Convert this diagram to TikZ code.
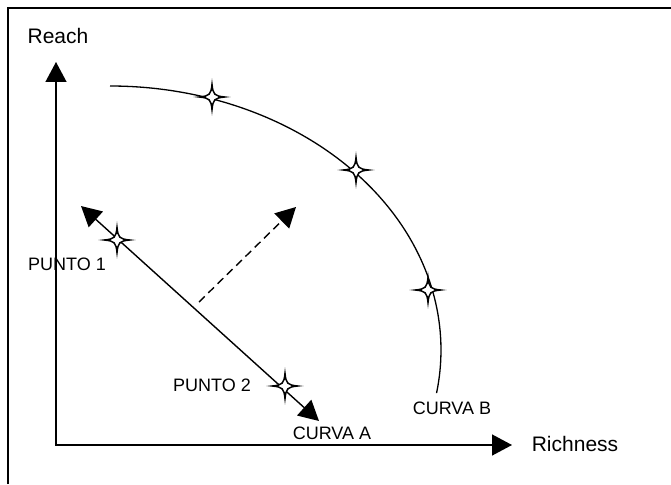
\documentclass[tikz,border=0pt]{standalone}
\usepackage{fontspec}
\setmainfont{Liberation Sans}
\usetikzlibrary{arrows.meta}

\tikzset{
  lbl/.style={font=\fontsize{18}{20}\selectfont, inner sep=0pt},
  axlbl/.style={font=\fontsize{21}{24}\selectfont, inner sep=0pt},
  sparkle/.pic={
    \draw [fill=white, line width=1.5pt] (0,-12.5)
      .. controls (1,-2.5) and (2.5,-1) .. (12.5,0)
      .. controls (2.5,1) and (1,2.5) .. (0,12.5)
      .. controls (-1,2.5) and (-2.5,1) .. (-12.5,0)
      .. controls (-2.5,-1) and (-1,-2.5) .. cycle;
  },
  >={Triangle[length=20pt,width=21pt]}
}

\begin{document}
\begin{tikzpicture}[x=1pt,y=-1pt,line width=1.4pt]
	\useasboundingbox (0,0) rectangle (671,484);
	\draw [line width=1.2pt] (8,484) -- (8,8) -- (671,8);
	% axes
	\coordinate (o) at (56,445);
	\coordinate (ytop) at (56,62);
	\coordinate (xend) at (512,445);
	\draw [<->] (ytop) -- (o) -- (xend);
	\node [axlbl] (reach) at (58,36) {Reach};
	\node [axlbl] (rich) at (575,444) {Richness};
	% curva B
	\coordinate (b0) at (110,86);
	\draw [line width=1.3pt] (b0) arc [start angle=270, end angle=369.4, x radius=331, y radius=264];
	% curva A
	\coordinate (a1) at (81,206);
	\coordinate (a2) at (319,421);
	\draw [<->] (a1) -- (a2);
	% shift
	\coordinate (d1) at (199,302);
	\coordinate (d2) at (296,207);
	\draw [->, dash pattern=on 8pt off 5pt] (d1) -- (d2);
	% points
	\pic (s1) at (212,97) {sparkle};
	\pic (s2) at (356,170) {sparkle};
	\pic (s3) at (428,290) {sparkle};
	\pic (p1) at (117,240) {sparkle};
	\pic (p2) at (285,386) {sparkle};
	\node [lbl] (punto1) at (67,264) {PUNTO 1};
	\node [lbl] (punto2) at (212,385) {PUNTO 2};
	\node [lbl] (curvaA) at (332,433) {CURVA A};
	\node [lbl] (curvaB) at (452,408) {CURVA B};
\end{tikzpicture}
\end{document}
